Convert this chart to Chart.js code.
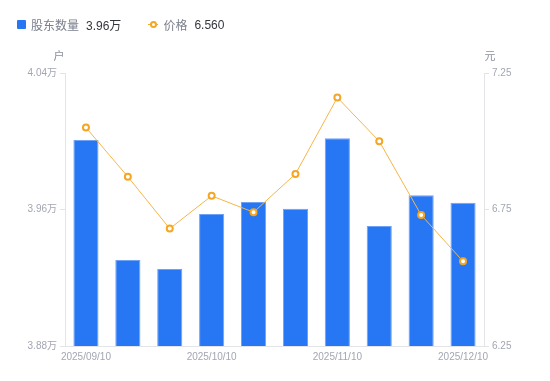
<!DOCTYPE html>
<html>
<head>
<meta charset="utf-8">
<script src="https://cdn.jsdelivr.net/npm/chart.js@4/dist/chart.umd.min.js"></script>
<style>
  html, body { margin: 0; padding: 0; background: #fff; }
  #wrap { position: relative; width: 550px; height: 381px; }
  #legend { position: absolute; left: 17px; top: 16px; font-family: "Liberation Sans", "Noto Sans CJK SC", sans-serif; font-size: 12px; display: flex; align-items: center; white-space: nowrap; }
  .lg-name { color: #7b7f8c; margin-left: 5px; font-family: "Noto Sans CJK SC", sans-serif; }
  .lg-val { color: #33363d; margin-left: 7px; }
  .sq { width: 9px; height: 9px; background: #2777f4; border-radius: 1px; display: inline-block; }
  .ln { position: relative; width: 10px; height: 9px; display: inline-block; margin-left: 27px; }
  .ln::before { content: ""; position: absolute; left: 0; right: 0; top: 4px; height: 1px; background: #f5a623; }
  .ln::after { content: ""; position: absolute; left: 2px; top: 1px; width: 3px; height: 3px; border: 2px solid #f5a623; border-radius: 50%; background: #fff; }
</style>
</head>
<body>
<div id="wrap">
  <canvas id="c" width="550" height="381"></canvas>
  <div id="legend">
    <span class="sq"></span><span class="lg-name">股东数量</span><span class="lg-val">3.96万</span>
    <span class="ln"></span><span class="lg-name">价格</span><span class="lg-val">6.560</span>
  </div>
</div>
<script>
const categories = ['2025/09/10','2025/09/19','2025/09/30','2025/10/10','2025/10/20','2025/10/31','2025/11/10','2025/11/20','2025/11/28','2025/12/10'];
const holders = [4.0008, 3.9304, 3.9251, 3.9574, 3.9644, 3.9604, 4.0017, 3.9503, 3.9683, 3.9640];
const prices = [7.05, 6.87, 6.68, 6.80, 6.74, 6.88, 7.16, 7.00, 6.73, 6.56];
const leftTicks = [3.88, 3.96, 4.04];
const rightTicks = [6.25, 6.75, 7.25];
const leftUnit = '户';
const rightUnit = '元';

const tickColor = '#a3a6b2';
const axisColor = '#e3e4e8';
const font = { family: '"Liberation Sans", "Noto Sans CJK SC", sans-serif', size: 10 };

const unitPlugin = {
  id: 'units',
  afterDraw(chart) {
    const ctx = chart.ctx;
    const a = chart.chartArea;
    ctx.save();
    ctx.font = '11px "Noto Sans CJK SC", sans-serif';
    ctx.fillStyle = '#8b8f9b';
    ctx.textBaseline = 'middle';
    ctx.textAlign = 'center';
    ctx.fillText(leftUnit, a.left - 6, 56);
    ctx.fillText(rightUnit, a.right + 6, 56);
    ctx.restore();
  }
};

new Chart(document.getElementById('c'), {
  data: {
    labels: categories,
    datasets: [
      {
        type: 'line',
        label: '价格',
        data: prices,
        yAxisID: 'y1',
        borderColor: '#f7b547',
        borderWidth: 1,
        pointRadius: 3,
        pointBorderWidth: 2,
        pointBorderColor: '#f5a623',
        pointBackgroundColor: '#ffffff',
        tension: 0,
        order: 0
      },
      {
        type: 'bar',
        label: '股东数量',
        data: holders,
        yAxisID: 'y',
        backgroundColor: '#2777f4',
        borderColor: '#6ea2f6',
        borderWidth: 1,
        categoryPercentage: 0.6,
        barPercentage: 1.0,
        order: 1
      }
    ]
  },
  options: {
    responsive: false,
    animation: false,
    layout: { padding: { top: 73, left: 0, right: 0, bottom: 0 } },
    plugins: { legend: { display: false }, tooltip: { enabled: false } },
    scales: {
      x: {
        offset: true,
        grid: { display: false, drawTicks: false },
        border: { display: true, color: axisColor },
        ticks: {
          autoSkip: false, maxRotation: 0, color: tickColor, font: font, padding: 5,
          callback: (v, i) => (i % 3 === 0 ? categories[i] : '')
        },
        afterFit: s => { s.height = 35; }
      },
      y: {
        position: 'left',
        min: leftTicks[0], max: leftTicks[leftTicks.length - 1],
        afterBuildTicks: s => { s.ticks = leftTicks.map(v => ({ value: v })); },
        grid: { drawOnChartArea: false, drawTicks: true, tickLength: 5, color: axisColor },
        border: { display: true, color: axisColor },
        ticks: { color: tickColor, font: font, padding: 3, callback: v => v.toFixed(2) + '万' },
        afterFit: s => { s.width = 65; }
      },
      y1: {
        position: 'right',
        min: rightTicks[0], max: rightTicks[rightTicks.length - 1],
        afterBuildTicks: s => { s.ticks = rightTicks.map(v => ({ value: v })); },
        grid: { drawOnChartArea: false, drawTicks: true, tickLength: 5, color: axisColor },
        border: { display: true, color: axisColor },
        ticks: { color: tickColor, font: font, padding: 3, callback: v => v.toFixed(2) },
        afterFit: s => { s.width = 66; }
      }
    }
  },
  plugins: [unitPlugin]
});
</script>
</body>
</html>
